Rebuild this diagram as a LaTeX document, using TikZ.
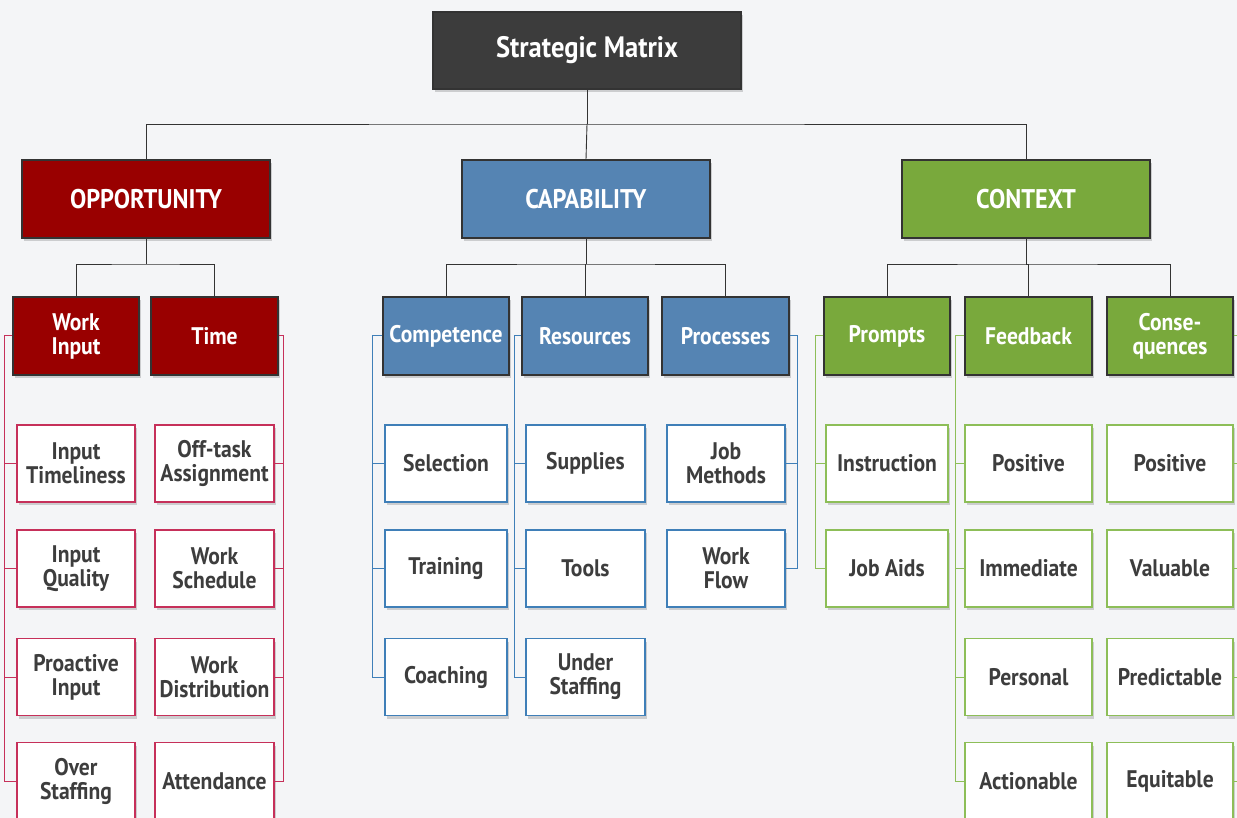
\documentclass[tikz,border=0pt]{standalone}
\usepackage{fontspec}
\newfontfamily\lblfont{PT Sans}[FakeStretch=0.9]
\usetikzlibrary{shadows}
\definecolor{bgc}{HTML}{F4F5F7}
\definecolor{topc}{HTML}{3C3C3C}
\definecolor{redc}{HTML}{990000}
\definecolor{redl}{HTML}{C6305A}
\definecolor{bluec}{HTML}{5584B3}
\definecolor{bluel}{HTML}{3F7FB8}
\definecolor{greenc}{HTML}{79A93C}
\definecolor{greenl}{HTML}{8DBE58}
\definecolor{txtc}{HTML}{3D3D3D}
\begin{document}
\begin{tikzpicture}[x=1pt,y=-1pt,
  shd/.style={drop shadow={shadow xshift=1.5pt,shadow yshift=-3pt,fill=black,opacity=0.16}},
  hdr/.style={shd,draw=black!80,line width=1.1pt,text=white,align=center,inner sep=0pt,
    font=\lblfont\bfseries\fontsize{24}{24}\selectfont},
  topbox/.style={hdr,fill=topc,minimum width=308pt,minimum height=77pt,font=\lblfont\bfseries\fontsize{29.5}{30}\selectfont},
  lone/.style={hdr,minimum width=248pt,minimum height=78pt,font=\lblfont\bfseries\fontsize{27}{28}\selectfont},
  ltwo/.style={hdr,minimum height=78pt},
  kid/.style={shd,fill=white,line width=1.1pt,text=txtc,align=center,inner sep=0pt,minimum height=77pt,
    font=\lblfont\bfseries\fontsize{24}{24}\selectfont},
  rkid/.style={kid,draw=redl}, bkid/.style={kid,draw=bluel}, gkid/.style={kid,draw=greenl},
  conn/.style={draw=black!80,line width=0.9pt},
  rl/.style={draw=redl,line width=1pt}, bl/.style={draw=bluel,line width=1pt}, gl/.style={draw=greenl,line width=1pt}
]
\useasboundingbox[fill=bgc] (0,0) rectangle (1237,818);
\begin{scope}
\clip (0,0) rectangle (1237,818);
% top
\node[topbox] (top) at (587,50.5) {Strategic Matrix};
\node[lone,fill=redc] (opp) at (146,199) {OPPORTUNITY};
\node[lone,fill=bluec] (cap) at (586,199) {CAPABILITY};
\node[lone,fill=greenc] (ctx) at (1026,199) {CONTEXT};
\coordinate (b0) at (587,124);
\draw[conn] (top.south) -- (b0);
\draw[conn] (opp.north) |- (b0) -| (ctx.north);
\draw[conn] (b0) -- (cap.north);
% level 2
\node[ltwo,fill=redc,minimum width=126pt] (wi) at (76,336) {Work\\Input};
\node[ltwo,fill=redc,minimum width=127pt] (ti) at (214.5,336) {Time};
\node[ltwo,fill=bluec,minimum width=126pt] (co) at (446,336) {Competence};
\node[ltwo,fill=bluec,minimum width=126pt] (re) at (585,336) {Resources};
\node[ltwo,fill=bluec,minimum width=127pt] (pr) at (725.5,336) {Processes};
\node[ltwo,fill=greenc,minimum width=126pt] (pm) at (887,336) {Prompts};
\node[ltwo,fill=greenc,minimum width=127pt] (fb) at (1028.5,336) {Feedback};
\node[ltwo,fill=greenc,minimum width=126pt] (cs) at (1170,336) {Conse-\\quences};
\coordinate (b1) at (146,264);
\draw[conn] (opp.south) -- (b1);
\draw[conn] (wi.north) |- (b1) -| (ti.north);
\coordinate (b2) at (586,264);
\draw[conn] (cap.south) -- (b2);
\draw[conn] (co.north) |- (b2) -| (pr.north);
\draw[conn] (b2) -| (re.north);
\coordinate (b3) at (1026,264);
\draw[conn] (ctx.south) -- (b3);
\draw[conn] (pm.north) |- (b3) -| (cs.north);
\draw[conn] (b3) -| (fb.north);
% children
\node[rkid,minimum width=118pt] (wi1) at (76,463.5) {Input\\Timeliness};
\node[rkid,minimum width=118pt] (wi2) at (76,568.5) {Input\\Quality};
\node[rkid,minimum width=118pt] (wi3) at (76,677) {Proactive\\Input};
\node[rkid,minimum width=118pt] (wi4) at (76,781) {Over\\Staffing};
\node[rkid,minimum width=119pt] (ti1) at (214.5,463.5) {Off-task\\Assignment};
\node[rkid,minimum width=119pt] (ti2) at (214.5,568.5) {Work\\Schedule};
\node[rkid,minimum width=119pt] (ti3) at (214.5,677) {Work\\Distribution};
\node[rkid,minimum width=119pt] (ti4) at (214.5,781) {Attendance};
\node[bkid,minimum width=122pt] (co1) at (446,463.5) {Selection};
\node[bkid,minimum width=122pt] (co2) at (446,568.5) {Training};
\node[bkid,minimum width=122pt] (co3) at (446,677) {Coaching};
\node[bkid,minimum width=119pt] (re1) at (585.5,463.5) {Supplies};
\node[bkid,minimum width=119pt] (re2) at (585.5,568.5) {Tools};
\node[bkid,minimum width=119pt] (re3) at (585.5,677) {Under\\Staffing};
\node[bkid,minimum width=118pt] (pr1) at (726,463.5) {Job\\Methods};
\node[bkid,minimum width=118pt] (pr2) at (726,568.5) {Work\\Flow};
\node[gkid,minimum width=122pt] (pm1) at (887,463.5) {Instruction};
\node[gkid,minimum width=122pt] (pm2) at (887,568.5) {Job Aids};
\node[gkid,minimum width=127pt] (fb1) at (1028.5,463.5) {Positive};
\node[gkid,minimum width=127pt] (fb2) at (1028.5,568.5) {Immediate};
\node[gkid,minimum width=127pt] (fb3) at (1028.5,677) {Personal};
\node[gkid,minimum width=127pt] (fb4) at (1028.5,781) {Actionable};
\node[gkid,minimum width=126pt] (cs1) at (1170,463.5) {Positive};
\node[gkid,minimum width=126pt] (cs2) at (1170,568.5) {Valuable};
\node[gkid,minimum width=126pt] (cs3) at (1170,677) {Predictable};
\node[gkid,minimum width=126pt] (cs4) at (1170,781) {Equitable};
% brackets
\draw[rl] (wi.west) -| ([xshift=-12pt]wi4.west) -- (wi4.west);
\foreach \n in {wi1,wi2,wi3} \draw[rl] (\n.west) -- ++(-12,0);
\draw[rl] (ti.east) -| ([xshift=8.5pt]ti4.east) -- (ti4.east);
\foreach \n in {ti1,ti2,ti3} \draw[rl] (\n.east) -- ++(8.5,0);
\draw[bl] (co.west) -| ([xshift=-12pt]co3.west) -- (co3.west);
\foreach \n in {co1,co2} \draw[bl] (\n.west) -- ++(-12,0);
\draw[bl] (re.west) -| ([xshift=-11pt]re3.west) -- (re3.west);
\foreach \n in {re1,re2} \draw[bl] (\n.west) -- ++(-11,0);
\draw[bl] (pr.east) -| ([xshift=12pt]pr2.east) -- (pr2.east);
\draw[bl] (pr1.east) -- ++(12,0);
\draw[gl] (pm.west) -| ([xshift=-10pt]pm2.west) -- (pm2.west);
\draw[gl] (pm1.west) -- ++(-10,0);
\draw[gl] (fb.west) -| ([xshift=-9pt]fb4.west) -- (fb4.west);
\foreach \n in {fb1,fb2,fb3} \draw[gl] (\n.west) -- ++(-9,0);
\draw[gl] (cs.east) -| ([xshift=8pt]cs4.east) -- (cs4.east);
\foreach \n in {cs1,cs2,cs3} \draw[gl] (\n.east) -- ++(8,0);
\end{scope}
\end{tikzpicture}
\end{document}
